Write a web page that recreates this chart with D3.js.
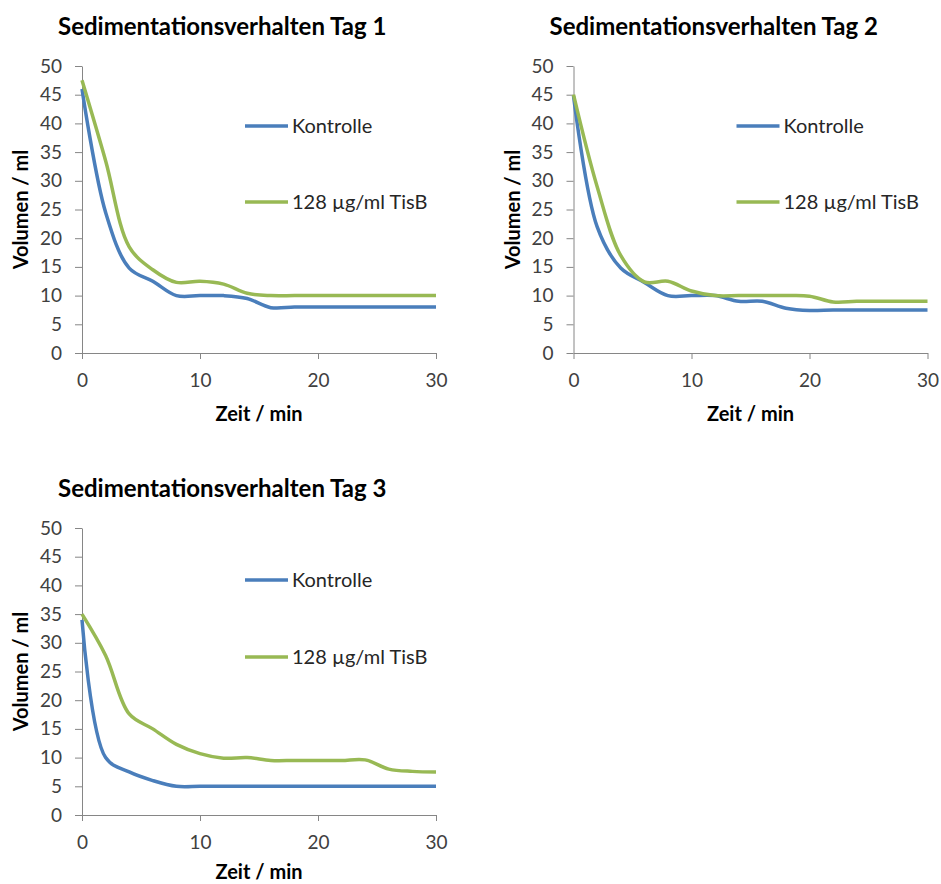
<!DOCTYPE html>
<html>
<head>
<meta charset="utf-8">
<script src="https://cdn.jsdelivr.net/npm/d3@7"></script>
<style>
	body { margin: 0; background: #fff; }
	svg { display: block; }
	text { font-family: Lato, "Open Sans", sans-serif; }
</style>
</head>
<body>
<svg id="chart" width="941" height="884"></svg>
<script>
// Messzeitpunkte (min)
var minutes = [0, 2, 4, 6, 8, 10, 12, 14, 16, 18, 20, 22, 24, 26, 28, 30];

var seriesNames = ["Kontrolle", "128 µg/ml TisB"];
var yTicks = [0, 5, 10, 15, 20, 25, 30, 35, 40, 45, 50];
var xTicks = [0, 10, 20, 30];

// Volumen / ml
var tag1Kontrolle = [46, 24.5, 14.8, 12.5, 10, 10, 10, 9.5, 7.9, 8, 8, 8, 8, 8, 8, 8];
var tag1TisB = [47.5, 33.5, 18.5, 14.5, 12.3, 12.5, 12, 10.4, 10, 10, 10, 10, 10, 10, 10, 10];

var tag2Kontrolle = [44.8, 22, 14.8, 12.3, 10, 10, 10, 9, 9, 7.8, 7.4, 7.5, 7.5, 7.5, 7.5, 7.5];
var tag2TisB = [45, 29, 17, 12.4, 12.5, 10.8, 10, 10, 10, 10, 9.9, 8.9, 9, 9, 9, 9];

var tag3Kontrolle = [34, 10, 7.5, 6, 5, 5, 5, 5, 5, 5, 5, 5, 5, 5, 5, 5];
var tag3TisB = [35, 27.8, 17.6, 15, 12.3, 10.7, 9.9, 10, 9.5, 9.5, 9.5, 9.5, 9.6, 8, 7.6, 7.5];

var colors = ["#4A7EBB", "#98B954"];

function drawChart(svg, left, top, title, kontrolle, tisb, legendY, xTitleGap) {
	var w = 354, h = 287;

	var x = d3.scaleLinear().domain([0, 30]).range([0, w]);
	var y = d3.scaleLinear().domain([0, 50]).range([h, 0]);

	var g = svg.append("g").attr("transform", "translate(" + left + "," + top + ")");

	// Titel
	g.append("text")
		.attr("x", -24).attr("y", -31)
		.attr("font-size", 24).attr("font-weight", "bold").attr("fill", "#000")
		.text(title);

	var yAxis = g.append("g")
		.call(d3.axisLeft(y).tickValues(yTicks).tickSizeInner(7).tickSizeOuter(0).tickPadding(13));
	var xAxis = g.append("g")
		.attr("transform", "translate(0," + h + ")")
		.call(d3.axisBottom(x).tickValues(xTicks).tickSizeInner(6).tickSizeOuter(0).tickPadding(15));

	[yAxis, xAxis].forEach(function (ax) {
		ax.select(".domain").attr("stroke", "#868686");
		ax.selectAll(".tick line").attr("stroke", "#868686");
		ax.selectAll(".tick text").attr("font-size", 19).attr("fill", "#404040")
			.style("font-family", "Lato, 'Open Sans', sans-serif");
	});

	// Achsentitel
	g.append("text")
		.attr("x", w / 2).attr("y", h + xTitleGap)
		.attr("text-anchor", "middle").attr("font-size", 20).attr("font-weight", "bold")
		.text("Zeit / min");
	g.append("text")
		.attr("transform", "translate(-54," + (h / 2) + ") rotate(-90)")
		.attr("text-anchor", "middle").attr("font-size", 20).attr("font-weight", "bold")
		.text("Volumen / ml");

	var line = d3.line()
		.x(function (d, i) { return x(minutes[i]); })
		.y(function (d) { return y(d); })
		.curve(d3.curveCatmullRom.alpha(0.5));

	[kontrolle, tisb].forEach(function (values, i) {
		g.append("path")
			.datum(values)
			.attr("d", line)
			.attr("fill", "none")
			.attr("stroke", colors[i])
			.attr("stroke-width", 3.5)
			.attr("stroke-linejoin", "round");
	});

	// Legende
	seriesNames.forEach(function (name, i) {
		g.append("line")
			.attr("x1", 163).attr("x2", 206)
			.attr("y1", legendY[i]).attr("y2", legendY[i])
			.attr("stroke", colors[i]).attr("stroke-width", 3.5);
		g.append("text")
			.attr("x", 210).attr("y", legendY[i]).attr("dy", "0.35em")
			.attr("font-size", 20).attr("fill", "#262626")
			.text(name);
	});
}

var svg = d3.select("#chart");
drawChart(svg, 82, 66, "Sedimentationsverhalten Tag 1", tag1Kontrolle, tag1TisB, [60, 136], 68);
drawChart(svg, 573.5, 66, "Sedimentationsverhalten Tag 2", tag2Kontrolle, tag2TisB, [60, 136], 68);
drawChart(svg, 82, 528, "Sedimentationsverhalten Tag 3", tag3Kontrolle, tag3TisB, [52, 129], 64);
</script>
</body>
</html>
